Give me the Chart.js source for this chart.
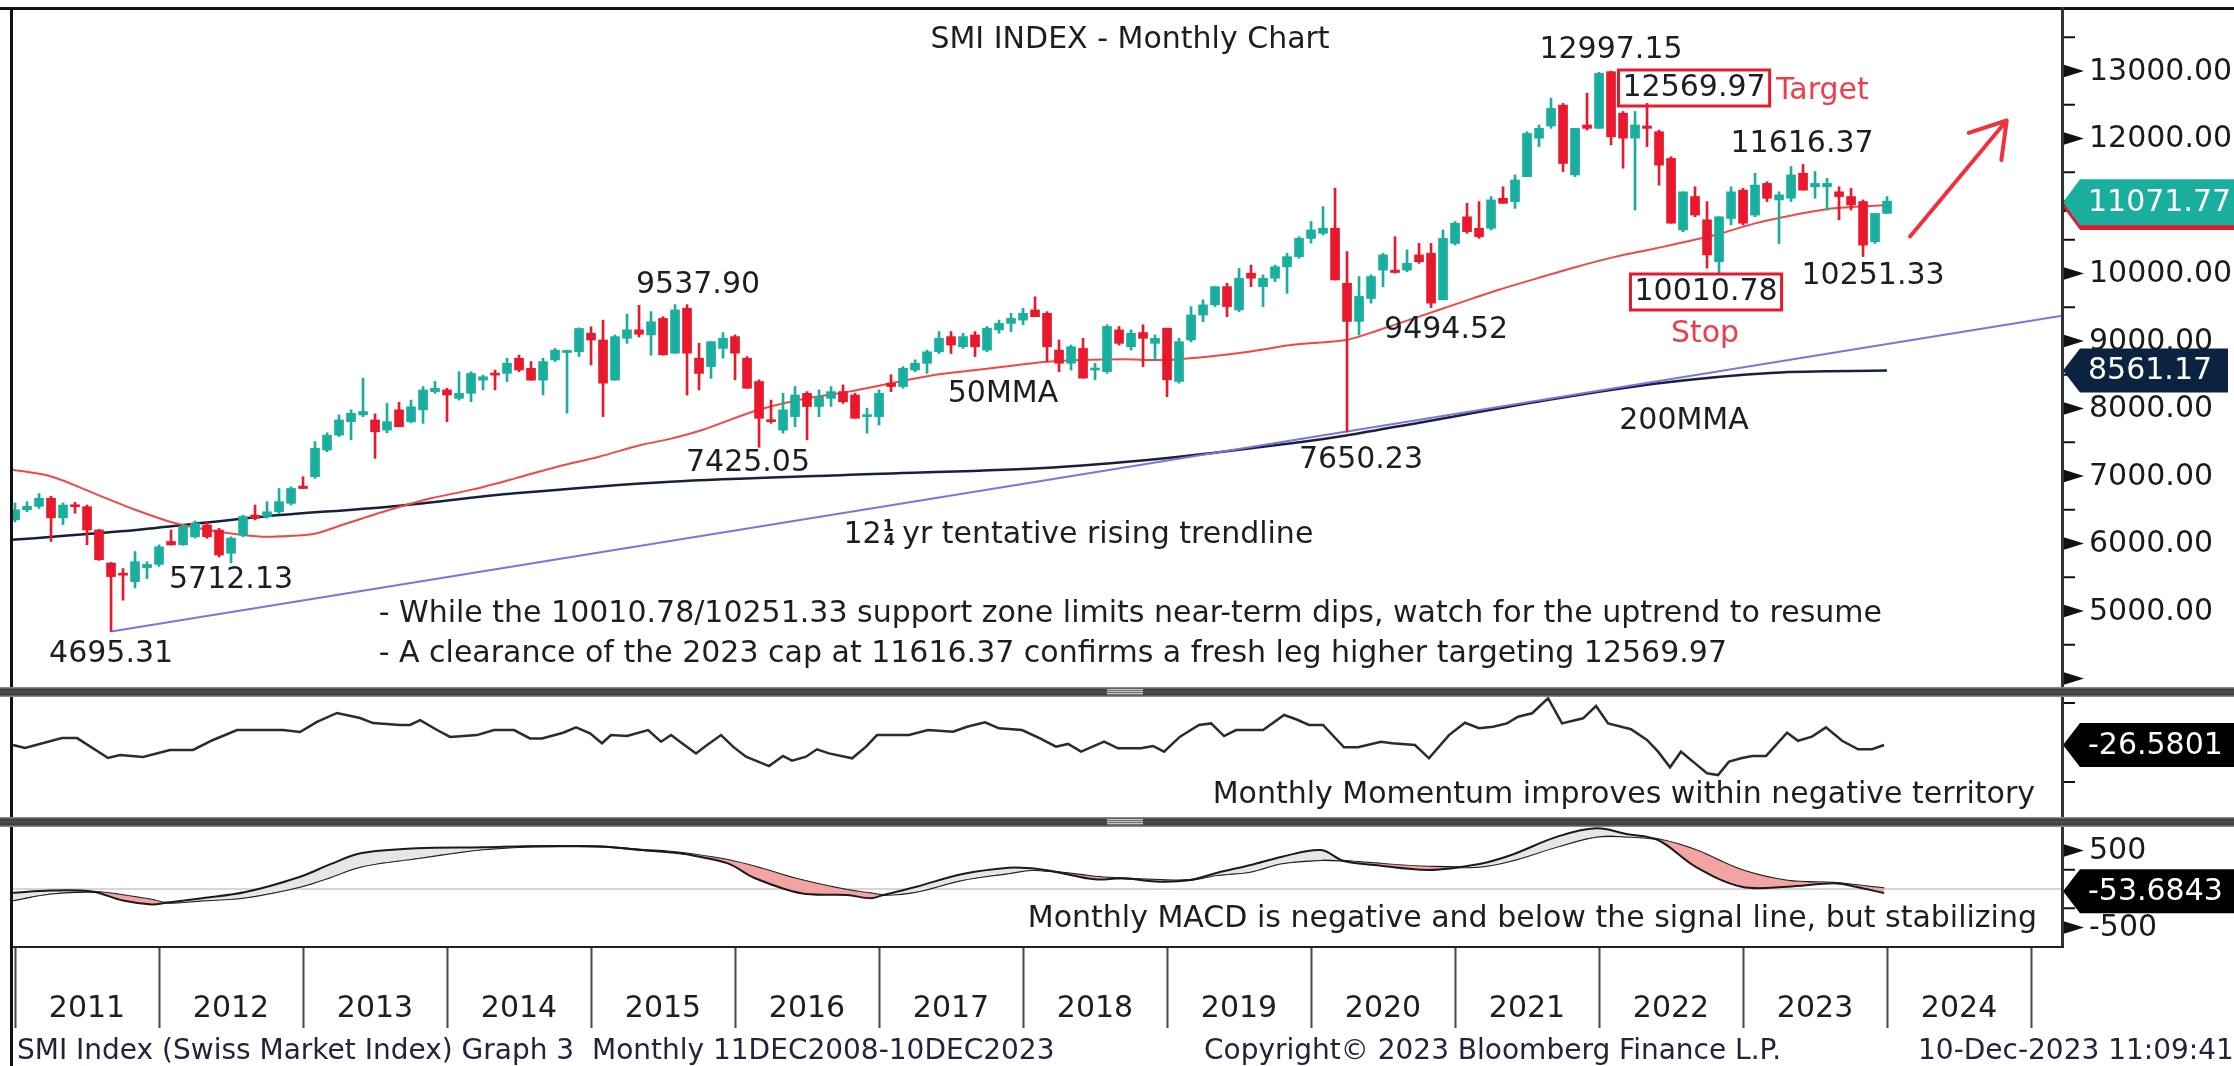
<!DOCTYPE html>
<html>
<head>
<meta charset="utf-8">
<title>SMI INDEX - Monthly Chart</title>
<script src="https://cdn.jsdelivr.net/npm/chart.js@4.4.1/dist/chart.umd.min.js"></script>
<style>
    body { margin: 0; background: #fff; }
    #wrap { position: relative; width: 2234px; height: 1066px; overflow: hidden; background: #fff; font-family: 'DejaVu Sans', sans-serif; }
    canvas { position: absolute; left: 0; }
    .rule { position: absolute; background: #111; }
    .sep { position: absolute; left: 0; width: 2234px; height: 10px; background: linear-gradient(#9a9a9a, #3e3e3e 25%, #4e4e4e 50%, #3e3e3e 75%, #9a9a9a); }
    .grip { position: absolute; left: 1107px; width: 36px; top: 2px; height: 6px; background: repeating-linear-gradient(#c4c4c4 0 1px, #707070 1px 2px); }
    .foot { position: absolute; top: 1034px; font-size: 28px; line-height: 32px; color: #23233a; white-space: nowrap; }
</style>
</head>
<body>
<div id="wrap">
    <canvas id="mainChart" width="2234" height="688" style="top:0"></canvas>
    <canvas id="momChart" width="2234" height="120" style="top:697px"></canvas>
    <canvas id="macdChart" width="2234" height="239" style="top:827px"></canvas>

    <div class="rule" style="left:0;top:7px;width:2234px;height:3px"></div>
    <div class="rule" style="left:10px;top:7px;width:3px;height:1059px"></div>
    <div class="rule" style="left:2061px;top:7px;width:3px;height:941px;background:#333"></div>
    <div class="rule" style="left:12px;top:946px;width:2052px;height:2px;background:#222"></div>
    <div class="sep" style="top:687px"><div class="grip"></div></div>
    <div class="sep" style="top:817px"><div class="grip"></div></div>

    <div class="foot" style="left:17px">SMI Index (Swiss Market Index) Graph 3&nbsp; Monthly 11DEC2008-10DEC2023</div>
    <div class="foot" style="left:1204px">Copyright© 2023 Bloomberg Finance L.P.</div>
    <div class="foot" style="left:1918px">10-Dec-2023 11:09:41</div>
</div>

<script>
// ========================================
// 데이터 (월봉, 2010년 12월 ~ 2023년 12월)
// ========================================

// 첫 캔들: 2010년 12월 (월말 위치)
const startYear = 2010;
const startMonth = 12;

const opens = [
    6350, 6500, 6550, 6670, 6380, 6570, 6545, 6200, 5710, 5560,
    5435, 5640, 5690, 6030, 5980, 6100, 6275, 6200, 5855, 6125,
    6420, 6400, 6470, 6595, 6850, 6990, 7385, 7605, 7805, 7905,
    7830, 7680, 7980, 7805, 7980, 8250, 8275, 8150, 8225, 8420,
    8520, 8520, 8745, 8595, 8420, 8720, 8830, 8840, 9115, 9015,
    8420, 9040, 9165, 9090, 9335, 8820, 9485, 8745, 8620, 8890,
    9065, 8745, 8400, 7830, 7680, 7880, 8225, 8030, 8150, 8250,
    8200, 7880, 7880, 8375, 8325, 8570, 8670, 8840, 9065, 8915,
    9090, 8865, 9165, 9260, 9310, 9460, 9410, 8865, 8670, 8890,
    8570, 8545, 9165, 8915, 9125, 8965, 9190, 8400, 9015, 9385,
    9535, 9805, 9460, 10005, 9805, 9930, 10100, 10250, 10520, 10595,
    10670, 9855, 9290, 9630, 10050, 10050, 10050, 10275, 10300, 9610,
    10445, 10840, 10670, 10670, 11115, 11065, 11435, 12005, 12185, 12495,
    11460, 12200, 12150, 12990, 12375, 12005, 12185, 12100, 11705, 10645,
    11140, 10795, 10175, 10815, 11235, 10865, 11335, 11090, 11115, 11485,
    11285, 11285, 11210, 11140, 11065, 10470, 10890
];
const highs = [
    6600, 6620, 6740, 6700, 6600, 6610, 6570, 6210, 5720, 5630,
    5880, 5730, 5980, 6200, 6275, 6335, 6310, 6225, 6100, 6420,
    6570, 6620, 6815, 6840, 6990, 7510, 7640, 7905, 7980, 8450,
    7920, 8075, 8090, 8125, 8325, 8400, 8300, 8545, 8545, 8495,
    8570, 8745, 8790, 8695, 8745, 8890, 8865, 9195, 9210, 9310,
    9090, 9400, 9530, 9435, 9360, 9540, 9538, 8965, 8990, 9125,
    9090, 8770, 8425, 8125, 8225, 8325, 8250, 8275, 8325, 8350,
    8225, 8005, 8275, 8500, 8620, 8720, 8865, 9140, 9140, 9115,
    9140, 9215, 9310, 9410, 9485, 9655, 9435, 9015, 8940, 9040,
    8670, 9240, 9215, 9165, 9240, 9090, 9190, 9040, 9510, 9610,
    9805, 9855, 10075, 10125, 9980, 10125, 10300, 10545, 10770, 10990,
    11265, 10325, 9955, 9980, 10300, 10545, 10350, 10445, 10445, 10645,
    10770, 11040, 11065, 11140, 11285, 11460, 12100, 12200, 12595, 12520,
    12150, 12670, 12980, 12997.15, 12400, 12400, 12520, 12125, 11730, 11210,
    11285, 11065, 10840, 11285, 11260, 11485, 11360, 11210, 11585, 11616.37,
    11510, 11410, 11285, 11260, 11090, 10890, 11140
];
const lows = [
    6320, 6470, 6520, 6030, 6280, 6450, 5980, 5750, 4695.31, 5160,
    5340, 5480, 5660, 5975, 5975, 6080, 6075, 5800, 5712.13, 6100,
    6350, 6375, 6445, 6570, 6815, 6965, 7360, 7585, 7535, 7880,
    7260, 7640, 7730, 7790, 7780, 8225, 7805, 8125, 8100, 8275,
    8275, 8400, 8545, 8420, 8200, 8695, 7930, 8770, 8645, 7880,
    8420, 8965, 9060, 8790, 8790, 8815, 8200, 8275, 8445, 8745,
    8425, 8300, 7425.05, 7780, 7635, 7730, 7535, 7880, 8030, 8075,
    7855, 7635, 7755, 8250, 8300, 8545, 8520, 8815, 8815, 8890,
    8770, 8840, 9115, 9140, 9240, 9360, 8695, 8545, 8570, 8450,
    8425, 8520, 8940, 8865, 8620, 8720, 8175, 8375, 8990, 9285,
    9510, 9360, 9435, 9805, 9510, 9880, 9705, 10225, 10450, 10570,
    9905, 7650.23, 9090, 9560, 9805, 10005, 10025, 10150, 9494.52, 9610,
    10420, 10595, 10520, 10645, 11040, 10965, 11435, 11880, 12150, 11510,
    11435, 12125, 12150, 11905, 11560, 10940, 11880, 11310, 10745, 10620,
    10840, 10080, 10010.78, 10720, 10720, 10840, 11065, 10445, 11065, 11235,
    11115, 10940, 10795, 10940, 10251.33, 10445, 10890
];
const closes = [
    6500, 6550, 6670, 6380, 6570, 6545, 6200, 5760, 5510, 5530,
    5730, 5690, 5950, 5980, 6250, 6300, 6100, 5830, 6080, 6400,
    6375, 6470, 6620, 6815, 6815, 7410, 7605, 7830, 7930, 7955,
    7655, 7805, 7730, 8025, 8275, 8300, 8200, 8225, 8520, 8470,
    8495, 8670, 8570, 8420, 8695, 8865, 8850, 9185, 9015, 8375,
    9065, 9165, 9100, 9285, 8795, 9460, 8820, 8520, 8990, 9040,
    8820, 8300, 7855, 7805, 7980, 8200, 8030, 8175, 8250, 8100,
    7855, 7905, 8225, 8325, 8595, 8670, 8840, 9040, 8940, 9065,
    8915, 9190, 9260, 9335, 9410, 9360, 8915, 8670, 8915, 8450,
    8595, 9215, 8965, 9115, 9040, 9040, 8425, 8990, 9385, 9535,
    9805, 9510, 9930, 9930, 9930, 10100, 10250, 10520, 10645, 10670,
    9905, 9290, 9660, 9955, 10275, 10015, 10150, 10175, 9560, 10520,
    10745, 10620, 10545, 11090, 11040, 11385, 12075, 12150, 12445, 11630,
    12150, 12150, 12965, 12025, 12005, 12200, 12150, 11605, 10745, 11210,
    10865, 10275, 10840, 11210, 10745, 11310, 11115, 11165, 11460, 11235,
    11335, 11335, 11140, 11015, 10420, 10890, 11071.77
];

// 이동평균선
const mma50Years = [2010.965, 2011.257, 2011.549, 2011.84, 2012.076, 2012.278, 2012.486, 2012.715, 2013.014, 2013.097,
    2013.306, 2013.597, 2013.889, 2014.181, 2014.472, 2014.764, 2015.056, 2015.347, 2015.549, 2015.771,
    2016.16, 2016.5, 2016.792, 2017.083, 2017.382, 2017.674, 2017.965, 2018.167, 2018.403, 2018.694,
    2018.986, 2019.278, 2019.569, 2019.861, 2020.243, 2020.472, 2020.75, 2021.021, 2021.299, 2021.569,
    2021.847, 2022.118, 2022.396, 2022.806, 2023.083, 2023.354, 2023.632, 2024.0];
const mma50Values = [7099, 6990, 6743, 6496, 6323, 6225, 6151, 6101, 6126, 6151,
    6299, 6496, 6669, 6802, 6965, 7138, 7286, 7459, 7550, 7682,
    7978, 8151, 8250, 8373, 8497, 8571, 8645, 8694, 8719, 8729,
    8719, 8768, 8842, 8941, 9015, 9163, 9361, 9558, 9756, 9928,
    10101, 10250, 10373, 10570, 10743, 10867, 10966, 11015];

const mma200Years = [2010.965, 2011.84, 2012.715, 2013.597, 2014.472, 2015.549, 2016.764, 2018.111,
    2018.986, 2019.92, 2020.243, 2020.75, 2021.57, 2022.4, 2023.22, 2024.0];
const mma200Values = [6052, 6200, 6398, 6546, 6743, 6916, 7016, 7114,
    7262, 7500, 7600, 7790, 8100, 8370, 8530, 8561.17];

// 12¼년 상승 추세선 (2011년 8월 저점 기준)
const trendYears = [2011.667, 2025.215];
const trendValues = [4695.31, 9375];

// 모멘텀
const momYears = [2010.986, 2011.069, 2011.326, 2011.431, 2011.646, 2011.729, 2011.889, 2012.076, 2012.236, 2012.375,
    2012.542, 2012.75, 2012.861, 2012.979, 2013.097, 2013.236, 2013.396, 2013.486, 2013.674, 2013.743,
    2013.813, 2013.931, 2014.021, 2014.208, 2014.326, 2014.465, 2014.576, 2014.66, 2014.806, 2014.896,
    2014.993, 2015.076, 2015.139, 2015.25, 2015.396, 2015.486, 2015.556, 2015.632, 2015.729, 2015.806,
    2015.903, 2015.986, 2016.076, 2016.236, 2016.333, 2016.396, 2016.493, 2016.569, 2016.653, 2016.813,
    2016.91, 2016.986, 2017.208, 2017.34, 2017.514, 2017.611, 2017.736, 2017.833, 2017.993, 2018.118,
    2018.229, 2018.313, 2018.403, 2018.563, 2018.66, 2018.819, 2018.903, 2018.979, 2019.09, 2019.222,
    2019.306, 2019.396, 2019.479, 2019.667, 2019.813, 2019.896, 2019.986, 2020.083, 2020.229, 2020.326,
    2020.486, 2020.563, 2020.722, 2020.819, 2020.958, 2021.069, 2021.167, 2021.264, 2021.361, 2021.438,
    2021.535, 2021.646, 2021.743, 2021.889, 2021.979, 2022.063, 2022.222, 2022.333, 2022.41, 2022.493,
    2022.569, 2022.667, 2022.75, 2022.826, 2022.903, 2022.986, 2023.063, 2023.16, 2023.306, 2023.382,
    2023.479, 2023.576, 2023.688, 2023.799, 2023.896, 2023.979];
const momValues = [-26.6, -28.5, -22.2, -22.2, -34.8, -32.9, -34.2, -29.7, -29.7, -23.4,
    -17.1, -17.1, -17.1, -18.4, -12.0, -6.3, -9.5, -12.7, -13.9, -13.9,
    -10.8, -17.1, -21.5, -20.3, -17.1, -17.1, -22.4, -22.4, -18.8, -15.4,
    -19.2, -25.5, -20.3, -20.9, -17.1, -24.5, -20.3, -25.5, -31.9, -26.6,
    -20.3, -27.6, -34.0, -39.9, -33.5, -36.5, -34.0, -29.3, -31.9, -35.0,
    -27.6, -20.3, -20.3, -17.1, -18.2, -15.0, -12.2, -16.0, -17.1, -22.4,
    -27.6, -25.9, -30.8, -24.5, -28.7, -28.7, -27.2, -30.8, -21.3, -13.9,
    -12.9, -20.9, -17.1, -17.1, -7.6, -10.3, -13.9, -13.9, -28.0, -28.0,
    -24.5, -25.5, -26.6, -35.0, -20.3, -12.5, -16.0, -15.0, -12.9, -8.7,
    -6.5, 3.0, -12.9, -9.7, -1.9, -12.9, -16.6, -23.4, -30.8, -40.7,
    -30.8, -38.2, -44.5, -45.6, -37.1, -35.0, -33.5, -33.5, -18.8, -23.9,
    -21.3, -15.4, -23.9, -29.3, -29.3, -26.5801];

// MACD / 시그널
const macdYears = [2010.98, 2011.25, 2011.54, 2011.75, 2011.95, 2012.05, 2012.3, 2012.6, 2012.98, 2013.2,
    2013.4, 2013.79, 2014.25, 2014.55, 2014.85, 2015.1, 2015.35, 2015.55, 2015.69, 2015.95,
    2016.14, 2016.46, 2016.78, 2016.94, 2017.03, 2017.26, 2017.58, 2017.9, 2018.06, 2018.22,
    2018.5, 2018.69, 2018.95, 2019.16, 2019.35, 2019.58, 2019.8, 2020.07, 2020.22, 2020.44,
    2020.82, 2021.17, 2021.39, 2021.71, 2021.98, 2022.19, 2022.41, 2022.67, 2022.99, 2023.31,
    2023.63, 2023.78, 2023.98];
const macdValues = [-50, -20, -35, -150, -200, -180, -120, -40, 160, 330,
    463, 528, 541, 555, 558, 550, 506, 475, 441, 333,
    139, -56, -78, -121, -78, 30, 195, 277, 268, 225,
    126, 139, 95, 117, 212, 312, 420, 506, 368, 312,
    247, 325, 441, 680, 788, 714, 636, 290, 30, 30,
    74, 30, -53.6843];
const signalValues = [-150, -60, -35, -80, -140, -180, -150, -110, 30, 160,
    290, 398, 515, 550, 556, 550, 510, 484, 454, 377,
    290, 117, -13, -56, -78, -35, 117, 204, 247, 225,
    160, 139, 117, 117, 182, 225, 333, 377, 368, 333,
    290, 290, 368, 550, 680, 680, 645, 506, 247, 108,
    82, 52, 9];

// 축 눈금
const priceLabels = [5000, 6000, 7000, 8000, 9000, 10000, 11000, 12000, 13000];
const macdLabels = [500, -500];
const yearLabels = [2011, 2012, 2013, 2014, 2015, 2016, 2017, 2018, 2019, 2020, 2021, 2022, 2023, 2024];

// ========================================
// 스타일
// ========================================
const TEAL = '#1aae9f';
const RED = '#e8192c';
const TEXT = '#1d1d24';
const NOTE_RED = '#ef3e4a';
const FONT = '30px "DejaVu Sans"';
const X_MIN = 2010.979;
const X_MAX = 2025.215;
const AXIS_W = 172;

Chart.defaults.font.family = 'DejaVu Sans';

// 캔들 x 위치 (월말)
function candleX(i) {
    return startYear + (startMonth + i) / 12;
}

function points(xs, ys) {
    return xs.map((x, i) => ({ x: x, y: ys[i] }));
}

const candleColors = opens.map((o, i) => closes[i] >= o ? TEAL : RED);
const wickData = opens.map((o, i) => ({ x: candleX(i), y: [lows[i], highs[i]] }));
const bodyData = opens.map((o, i) => ({ x: candleX(i), y: [Math.min(o, closes[i]), Math.max(o, closes[i])] }));

// 차트 위 주석 (x: 연도, y: 지수 값)
const notes = [
    { x: 2018.743, y: 13459, text: 'SMI INDEX - Monthly Chart' },
    { x: 2022.083, y: 13311, text: '12997.15' },
    { x: 2022.66, y: 12748, text: '12569.97', box: true },
    { x: 2023.229, y: 12704, text: 'Target', color: NOTE_RED, align: 'left' },
    { x: 2023.41, y: 11919, text: '11616.37' },
    { x: 2023.903, y: 9963, text: '10251.33' },
    { x: 2022.743, y: 9726, text: '10010.78', box: true },
    { x: 2022.736, y: 9104, text: 'Stop', color: NOTE_RED },
    { x: 2015.743, y: 9830, text: '9537.90' },
    { x: 2020.938, y: 9163, text: '9494.52' },
    { x: 2017.861, y: 8215, text: '50MMA' },
    { x: 2022.59, y: 7815, text: '200MMA' },
    { x: 2016.09, y: 7193, text: '7425.05' },
    { x: 2020.347, y: 7237, text: '7650.23' },
    { x: 2012.5, y: 5459, text: '5712.13' },
    { x: 2011.667, y: 4363, text: '4695.31' },
    { x: 2013.525, y: 4956, text: '- While the 10010.78/10251.33 support zone limits near-term dips, watch for the uptrend to resume', align: 'left' },
    { x: 2013.525, y: 4363, text: '- A clearance of the 2023 cap at 11616.37 confirms a fresh leg higher targeting 12569.97', align: 'left' }
];

// 축 눈금 표시 (삼각형 / 짧은 선)
function tickMark(ctx, x, y, major) {
    ctx.fillStyle = '#111';
    if (major) {
        ctx.beginPath();
        ctx.moveTo(x, y - 6.5);
        ctx.lineTo(x + 21, y);
        ctx.lineTo(x, y + 6.5);
        ctx.closePath();
        ctx.fill();
    } else {
        ctx.fillRect(x, y - 1, 12, 2);
    }
}

// 축 라벨
function axisLabel(ctx, x, y, text) {
    ctx.font = FONT;
    ctx.fillStyle = '#1a1a1a';
    ctx.textAlign = 'left';
    ctx.textBaseline = 'middle';
    ctx.fillText(text, x, y + 1);
}

// 오른쪽 값 라벨
function valueTag(ctx, x, y, text, bg, right, h) {
    ctx.fillStyle = bg;
    ctx.beginPath();
    ctx.moveTo(x, y);
    ctx.lineTo(x + 17, y - h / 2);
    ctx.lineTo(right, y - h / 2);
    ctx.lineTo(right, y + h / 2);
    ctx.lineTo(x + 17, y + h / 2);
    ctx.closePath();
    ctx.fill();
    if (!text) return;
    ctx.fillStyle = '#fff';
    ctx.font = FONT;
    ctx.textAlign = 'left';
    ctx.textBaseline = 'middle';
    ctx.fillText(text, x + 25, y + 1);
}

const xAxis = { type: 'linear', min: X_MIN, max: X_MAX, display: false, offset: false };

function baseOptions(yMin, yMax, padTop, padBottom) {
    return {
        responsive: false,
        animation: false,
        layout: { padding: { left: 12, top: padTop, bottom: padBottom, right: AXIS_W } },
        plugins: { legend: { display: false }, tooltip: { enabled: false } },
        scales: {
            x: xAxis,
            y: { display: false, min: yMin, max: yMax }
        }
    };
}

// ========================================
// 메인 차트
// ========================================
const mainDecor = {
    id: 'mainDecor',
    afterDraw(chart) {
        const { ctx, chartArea: a, scales: { x, y } } = chart;
        ctx.save();

        for (let v = 4000; v <= 13500; v += 500) {
            const py = y.getPixelForValue(v);
            if (py < a.top || py > a.bottom) continue;
            tickMark(ctx, a.right + 1, py, v % 1000 === 0);
        }
        priceLabels.forEach(v => axisLabel(ctx, a.right + 27, y.getPixelForValue(v), v.toFixed(2)));

        ctx.font = FONT;
        ctx.textBaseline = 'middle';
        notes.forEach(n => {
            const px = x.getPixelForValue(n.x);
            const py = y.getPixelForValue(n.y);
            ctx.textAlign = n.align || 'center';
            ctx.fillStyle = n.color || TEXT;
            ctx.fillText(n.text, px, py);
            if (n.box) {
                const w = ctx.measureText(n.text).width;
                ctx.strokeStyle = RED;
                ctx.lineWidth = 3;
                ctx.strokeRect(px - w / 2 - 4, py - 18, w + 8, 36);
            }
        });

        // 추세선 설명 (12¼)
        let tx = x.getPixelForValue(2016.753);
        const ty = y.getPixelForValue(6126);
        ctx.textAlign = 'left';
        ctx.fillStyle = TEXT;
        ctx.fillText('12', tx, ty);
        tx += ctx.measureText('12').width + 1;
        ctx.font = 'bold 16px "DejaVu Sans"';
        ctx.fillText('1', tx, ty - 8);
        ctx.fillText('4', tx + 1, ty + 6);
        ctx.font = FONT;
        ctx.fillText(' yr tentative rising trendline', tx + 10, ty);

        // 상승 화살표
        const x0 = x.getPixelForValue(2024.16), y0 = y.getPixelForValue(10547);
        const x1 = x.getPixelForValue(2024.831), y1 = y.getPixelForValue(12267);
        const ang = Math.atan2(y0 - y1, x0 - x1);
        ctx.strokeStyle = '#f0323c';
        ctx.lineWidth = 4;
        ctx.lineCap = 'round';
        ctx.beginPath();
        ctx.moveTo(x0, y0);
        ctx.lineTo(x1, y1);
        [0.56, -0.56].forEach(d => {
            ctx.moveTo(x1, y1);
            ctx.lineTo(x1 + 40 * Math.cos(ang + d), y1 + 40 * Math.sin(ang + d));
        });
        ctx.stroke();

        // 현재값 라벨
        const last = closes.length - 1;
        const last200 = mma200Values[mma200Values.length - 1];
        valueTag(ctx, a.right + 1, y.getPixelForValue(mma50Values[mma50Values.length - 1]) + 2, '', RED, 2234, 46);
        valueTag(ctx, a.right + 1, y.getPixelForValue(closes[last]) + 1, closes[last].toFixed(2), TEAL, 2234, 46);
        valueTag(ctx, a.right + 1, y.getPixelForValue(last200), last200.toFixed(2), '#0b2340', 2228, 44);

        ctx.restore();
    }
};

new Chart(document.getElementById('mainChart'), {
    type: 'bar',
    data: {
        datasets: [
            { type: 'bar', label: 'wick', data: wickData, backgroundColor: candleColors, barThickness: 2, grouped: false, order: 1 },
            { type: 'bar', label: 'body', data: bodyData, backgroundColor: candleColors, barThickness: 9, minBarLength: 2, grouped: false, order: 0 },
            { type: 'line', label: '50MMA', data: points(mma50Years, mma50Values), borderColor: '#f04848', borderWidth: 2, pointRadius: 0, tension: 0.3, order: 3 },
            { type: 'line', label: '200MMA', data: points(mma200Years, mma200Values), borderColor: '#14233b', borderWidth: 2.5, pointRadius: 0, tension: 0.3, order: 4 },
            { type: 'line', label: 'trend', data: points(trendYears, trendValues), borderColor: '#7c74e2', borderWidth: 2, pointRadius: 0, order: 2 }
        ]
    },
    options: baseOptions(3888.9, 13918.5, 9, 2),
    plugins: [mainDecor]
});

// ========================================
// 모멘텀
// ========================================
const momDecor = {
    id: 'momDecor',
    afterDraw(chart) {
        const { ctx, chartArea: a, scales: { y } } = chart;
        ctx.save();
        [0, -50].forEach(v => tickMark(ctx, a.right + 1, y.getPixelForValue(v), false));
        ctx.font = FONT;
        ctx.textAlign = 'right';
        ctx.textBaseline = 'middle';
        ctx.fillStyle = TEXT;
        ctx.fillText('Monthly Momentum improves within negative territory', a.right - 27, y.getPixelForValue(-58.2));
        const lastMom = momValues[momValues.length - 1];
        valueTag(ctx, a.right + 1, y.getPixelForValue(lastMom), lastMom.toFixed(4), '#000', 2234, 44);
        ctx.restore();
    }
};

new Chart(document.getElementById('momChart'), {
    type: 'line',
    data: {
        datasets: [{ data: points(momYears, momValues), borderColor: '#2b2b2b', borderWidth: 2.5, pointRadius: 0, tension: 0 }]
    },
    options: baseOptions(-72.15, 3.8, 0, 0),
    plugins: [momDecor]
});

// ========================================
// MACD + 연도 축
// ========================================
const macdDecor = {
    id: 'macdDecor',
    beforeDatasetsDraw(chart) {
        const { ctx, chartArea: a, scales: { y } } = chart;
        const y0 = Math.round(y.getPixelForValue(0));
        ctx.save();
        ctx.fillStyle = '#d6d6d6';
        ctx.fillRect(a.left, y0 - 1, a.right - a.left, 2);
        ctx.restore();
    },
    afterDraw(chart) {
        const { ctx, chartArea: a, scales: { x, y } } = chart;
        ctx.save();
        [500, 250, -250, -500].forEach(v => tickMark(ctx, a.right + 1, y.getPixelForValue(v), Math.abs(v) === 500));
        macdLabels.forEach(v => axisLabel(ctx, a.right + 27, y.getPixelForValue(v), String(v)));

        ctx.font = FONT;
        ctx.textAlign = 'right';
        ctx.textBaseline = 'middle';
        ctx.fillStyle = TEXT;
        ctx.fillText('Monthly MACD is negative and below the signal line, but stabilizing', a.right - 25, y.getPixelForValue(-390));

        const lastMacd = macdValues[macdValues.length - 1];
        valueTag(ctx, a.right + 1, y.getPixelForValue(lastMacd) - 2, lastMacd.toFixed(4), '#000', 2234, 44);

        // 연도 눈금
        ctx.strokeStyle = '#4a4a4a';
        ctx.lineWidth = 2;
        ctx.beginPath();
        for (let yr = 2011; yr <= 2025; yr++) {
            const px = Math.round(x.getPixelForValue(yr)) + 0.5;
            ctx.moveTo(px, a.bottom + 1);
            ctx.lineTo(px, a.bottom + 81);
        }
        ctx.stroke();
        ctx.textAlign = 'center';
        ctx.fillStyle = TEXT;
        yearLabels.forEach(yr => ctx.fillText(String(yr), x.getPixelForValue(yr + 0.5), a.bottom + 62));
        ctx.restore();
    }
};

new Chart(document.getElementById('macdChart'), {
    type: 'line',
    data: {
        datasets: [
            {
                label: 'MACD',
                data: points(macdYears, macdValues),
                borderColor: '#1a1a1a',
                borderWidth: 2,
                pointRadius: 0,
                tension: 0.35,
                fill: { target: '+1', above: '#e6e6e6', below: '#f4a3a3' }
            },
            {
                label: 'Signal',
                data: points(macdYears, signalValues),
                borderColor: '#1a1a1a',
                borderWidth: 2,
                pointRadius: 0,
                tension: 0.35
            }
        ]
    },
    options: baseOptions(-753.2, 805.2, 0, 119),
    plugins: [macdDecor]
});
</script>
</body>
</html>
